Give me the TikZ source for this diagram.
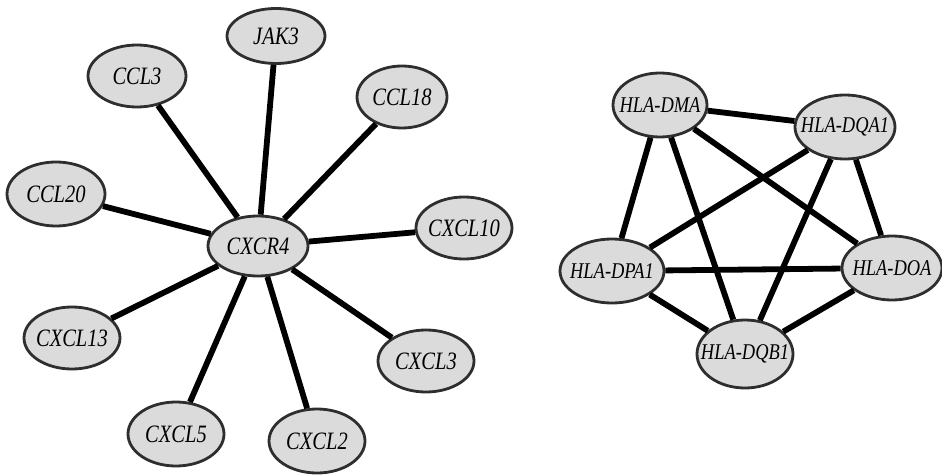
\documentclass[tikz,border=0pt]{standalone}
\usepackage{fontspec}
\setmainfont{Liberation Serif}[FakeStretch=0.82]
\usetikzlibrary{shapes.geometric}
\begin{document}
\begin{tikzpicture}[x=1pt,y=-1pt,
  gene/.style n args={2}{ellipse, draw=black!82, line width=2.8pt, fill=black!14,
    inner sep=0pt, minimum width=#1pt, minimum height=#2pt,
    font=\fontsize{25}{25}\selectfont\itshape},
  hla/.style={font=\fontsize{22.5}{22.5}\selectfont\itshape},
  link/.style={line width=5.8pt, black}]
\useasboundingbox (0,0) rectangle (942,476);
% left star
\node[gene={100}{60}] (cxcr4) at (258,246) {\makebox[0pt]{CXCR4}};
\node[gene={98}{55}] (jak3) at (276,36) {\makebox[0pt]{JAK3}};
\node[gene={98}{62}] (ccl3) at (137,76) {\makebox[0pt]{CCL3}};
\node[gene={90}{62}] (ccl18) at (402,97) {\makebox[0pt]{CCL18}};
\node[gene={98}{64}] (ccl20) at (56,194) {\makebox[0pt]{CCL20}};
\node[gene={96}{62}] (cxcl10) at (464,228) {\makebox[0pt]{CXCL10}};
\node[gene={96}{62}] (cxcl13) at (72,338) {\makebox[0pt]{CXCL13}};
\node[gene={96}{62}] (cxcl3) at (426,361) {\makebox[0pt]{CXCL3}};
\node[gene={96}{64}] (cxcl5) at (176,434) {\makebox[0pt]{CXCL5}};
\node[gene={96}{64}] (cxcl2) at (317,441) {\makebox[0pt]{CXCL2}};
\foreach \n in {jak3,ccl3,ccl18,ccl20,cxcl10,cxcl13,cxcl3,cxcl5,cxcl2}
  \draw[link] (cxcr4) -- (\n);
% right clique
\node[gene={94}{64},hla] (dma) at (660,105) {\makebox[0pt]{HLA-DMA}};
\node[gene={100}{64},hla] (dqa1) at (845,127) {\makebox[0pt]{HLA-DQA1}};
\node[gene={104}{64},hla] (dpa1) at (612,271) {\makebox[0pt]{HLA-DPA1}};
\node[gene={100}{64},hla] (doa) at (892,268) {\makebox[0pt]{HLA-DOA}};
\node[gene={96}{68},hla] (dqb1) at (745,354) {\makebox[0pt]{HLA-DQB1}};
\draw[link] (dma) -- (dqa1);
\draw[link] (dma) -- (dpa1);
\draw[link] (dma) -- (dqb1);
\draw[link] (dma) -- (doa);
\draw[link] (dqa1) -- (dpa1);
\draw[link] (dqa1) -- (dqb1);
\draw[link] (dqa1) -- (doa);
\draw[link] (dpa1) -- (doa);
\draw[link] (dpa1) -- (dqb1);
\draw[link] (doa) -- (dqb1);
\end{tikzpicture}
\end{document}
